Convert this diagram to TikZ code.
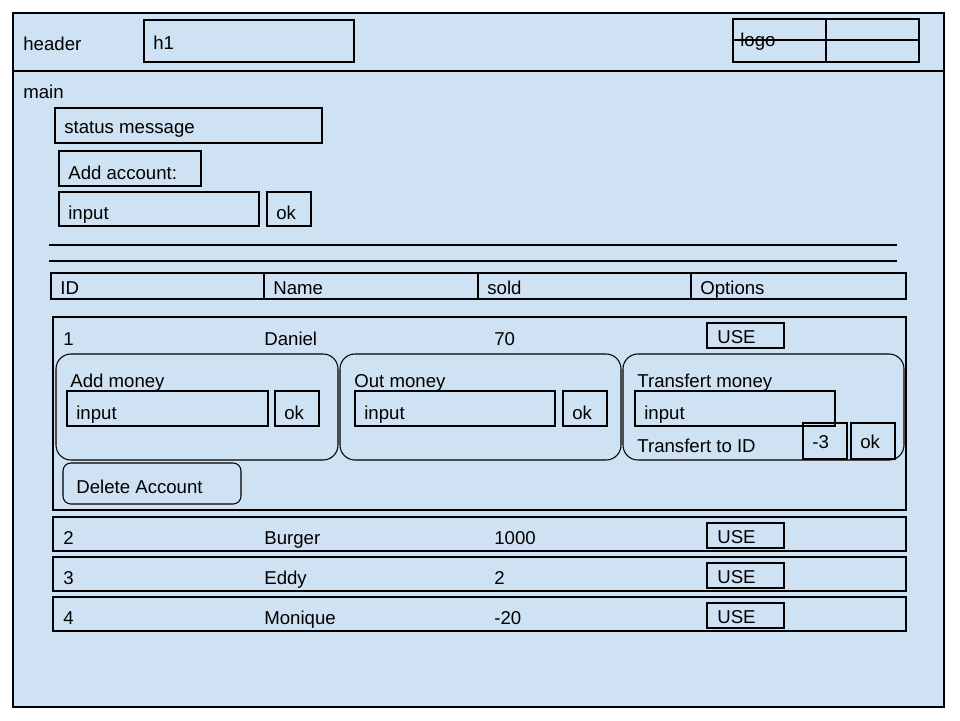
\documentclass[tikz,border=0pt]{standalone}
\usepackage{fontspec}
\setmainfont{Liberation Sans}
\definecolor{fond}{HTML}{CFE2F3}
\begin{document}
\begin{tikzpicture}[x=0.02cm,y=-0.02cm]
\tikzset{cadre/.style={draw, line width=0.6pt}, arrondi/.style={cadre, rounded corners=8.5pt}, petitarrondi/.style={cadre, rounded corners=4.5pt}, texte/.style={anchor=base west, inner sep=0pt, font=\fontsize{10.6}{12}\selectfont}}
\useasboundingbox (0,0) rectangle (960,720);
\draw[cadre, fill=fond] (13,13) rectangle (944,707);
\draw[cadre] (13,71) -- (944,71);
\node[texte] (header) at (23,50.5) {header};
\draw[cadre] (144,20) rectangle (354,62);
\node[texte] (h1) at (153,49.5) {h1};
\draw[cadre] (733,19) rectangle (919,62);
\node[texte] (logo) at (740,46) {logo};
\draw[cadre] (826,19) -- (826,62);
\draw[cadre] (733,40) -- (919,40);
\node[texte] (main) at (23,98.5) {main};
\draw[cadre] (55,108) rectangle (322,143);
\node[texte] (status) at (64,133.5) {status message};
\draw[cadre] (59,151) rectangle (201,186);
\node[texte] (addacc) at (68,179.5) {Add account:};
\draw[cadre] (59,192) rectangle (259,226);
\node[texte] (inacc) at (68,219.5) {input};
\draw[cadre] (267,192) rectangle (311,226);
\node[texte] (okacc) at (276,219.5) {ok};
\draw[cadre] (49,245) -- (897,245);
\draw[cadre] (49,261) -- (897,261);
\draw[cadre] (51,273) rectangle (906,299);
\draw[cadre] (264,273) -- (264,299);
\draw[cadre] (478,273) -- (478,299);
\draw[cadre] (691,273) -- (691,299);
\node[texte] (colid) at (60,294.5) {ID};
\node[texte] (colname) at (273,294.5) {Name};
\node[texte] (colsold) at (487,294.5) {sold};
\node[texte] (colopt) at (700,294.5) {Options};
\draw[cadre] (53,317) rectangle (906,510);
\node[texte] (id1) at (63,345.5) {1};
\node[texte] (name1) at (264,345.5) {Daniel};
\node[texte] (sold1) at (494,345.5) {70};
\draw[cadre] (707,323) rectangle (784,348);
\node[texte] (use1) at (717,343.5) {USE};
\draw[arrondi] (56,354) rectangle (338,460);
\node[texte] (addm) at (70,387.5) {Add money};
\draw[cadre] (67,391) rectangle (268,426);
\node[texte] (inadd) at (76,419.5) {input};
\draw[cadre] (275,391) rectangle (319,426);
\node[texte] (okadd) at (284,419.5) {ok};
\draw[arrondi] (340,354) rectangle (621,460);
\node[texte] (outm) at (354,387.5) {Out money};
\draw[cadre] (355,391) rectangle (555,426);
\node[texte] (inout) at (364,419.5) {input};
\draw[cadre] (563,391) rectangle (607,426);
\node[texte] (okout) at (572,419.5) {ok};
\draw[arrondi] (623,354) rectangle (904,460);
\node[texte] (trm) at (637,387.5) {Transfert money};
\draw[cadre] (635,391) rectangle (835,426);
\node[texte] (intr) at (644,419.5) {input};
\node[texte] (trto) at (637,452.5) {Transfert to ID};
\draw[cadre] (803,423) rectangle (847,459);
\node[texte] (trid) at (812,448.5) {-3};
\draw[cadre] (851,423) rectangle (895,459);
\node[texte] (oktr) at (860,448.5) {ok};
\draw[petitarrondi] (63,463) rectangle (241,504);
\node[texte] (del) at (76,493.5) {Delete Account};
\draw[cadre] (53,517) rectangle (906,551);
\node[texte] (id2) at (63,544.5) {2};
\node[texte] (name2) at (264,544.5) {Burger};
\node[texte] (sold2) at (494,544.5) {1000};
\draw[cadre] (707,523) rectangle (784,548);
\node[texte] (use2) at (717,543.5) {USE};
\draw[cadre] (53,557) rectangle (906,591);
\node[texte] (id3) at (63,584.5) {3};
\node[texte] (name3) at (264,584.5) {Eddy};
\node[texte] (sold3) at (494,584.5) {2};
\draw[cadre] (707,563) rectangle (784,588);
\node[texte] (use3) at (717,583.5) {USE};
\draw[cadre] (53,597) rectangle (906,631);
\node[texte] (id4) at (63,624.5) {4};
\node[texte] (name4) at (264,624.5) {Monique};
\node[texte] (sold4) at (494,624.5) {-20};
\draw[cadre] (707,603) rectangle (784,628);
\node[texte] (use4) at (717,623.5) {USE};
\end{tikzpicture}
\end{document}
